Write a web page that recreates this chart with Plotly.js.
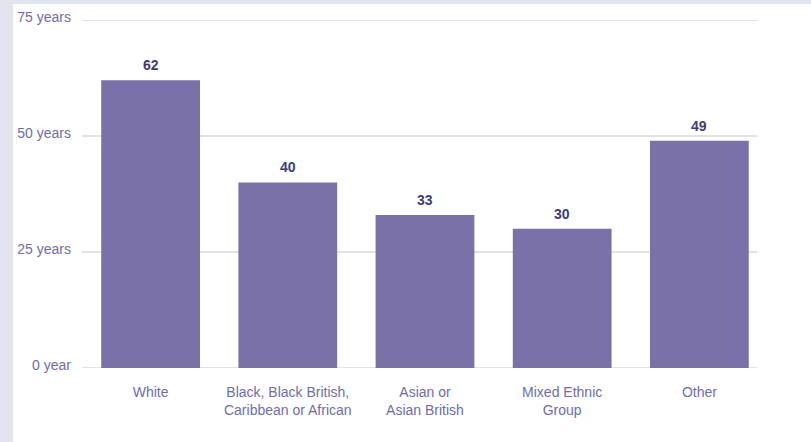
<!DOCTYPE html>
<html>
<head>
<meta charset="utf-8">
<script src="https://cdn.plot.ly/plotly-3.0.1.min.js"></script>
<style>
html,body{margin:0;padding:0;background:#e2e5ed;width:811px;height:442px;overflow:hidden;}
#panel{position:absolute;left:13px;top:4px;width:798px;height:438px;background:#fff;}
#chart{width:798px;height:438px;}
</style>
</head>
<body>
<div id="panel"><div id="chart"></div></div>
<script>
const categories = ["White", "Black, Black British,<br>Caribbean or African", "Asian or<br>Asian British", "Mixed Ethnic<br>Group", "Other"];
const values = [62, 40, 33, 30, 49];
const yTickVals = [0, 25, 50, 75];
const yTickText = ["0 year", "25 years", "50 years", "75 years"];

const xIdx = categories.map((c, i) => i);

const trace = {
  type: "bar",
  x: xIdx,
  y: values,
  marker: {color: "#7b71a9"},
  hoverinfo: "none"
};

const annotations = values.map((v, i) => ({
  x: xIdx[i],
  y: v,
  xref: "x",
  yref: "y",
  text: "<b>" + v + "</b>",
  showarrow: false,
  yanchor: "bottom",
  yshift: 5,
  font: {family: "Liberation Sans, Arial, sans-serif", size: 14, color: "#3d3b7c"}
}));

const gridShapes = yTickVals.map(v => ({
  type: "line",
  xref: "paper",
  yref: "y",
  x0: 0, x1: 1,
  y0: v, y1: v,
  line: {color: "#d9d9d9", width: 1.5},
  layer: "below"
}));

const layout = {
  width: 798,
  height: 438,
  margin: {l: 69, r: 54, t: 16, b: 74},
  paper_bgcolor: "#ffffff",
  plot_bgcolor: "#ffffff",
  bargap: 0.28,
  showlegend: false,
  annotations: annotations,
  shapes: gridShapes,
  font: {family: "Liberation Sans, Arial, sans-serif", size: 14, color: "#6f6cab"},
  xaxis: {
    range: [-0.5, 4.42],
    tickmode: "array",
    tickvals: xIdx,
    ticktext: categories,
    showgrid: false,
    zeroline: false,
    showline: false,
    ticks: "",
    ticklabelstandoff: 14,
    tickfont: {size: 14, color: "#6f6cab"}
  },
  yaxis: {
    range: [0, 75],
    tickmode: "array",
    tickvals: yTickVals,
    ticktext: yTickText,
    showgrid: false,
    zeroline: false,
    showline: false,
    ticks: "",
    ticklabelstandoff: 10,
    ticklabelshift: -3,
    tickfont: {size: 14, color: "#6f6cab"}
  }
};

Plotly.newPlot("chart", [trace], layout, {displayModeBar: false, staticPlot: true});
</script>
</body>
</html>
